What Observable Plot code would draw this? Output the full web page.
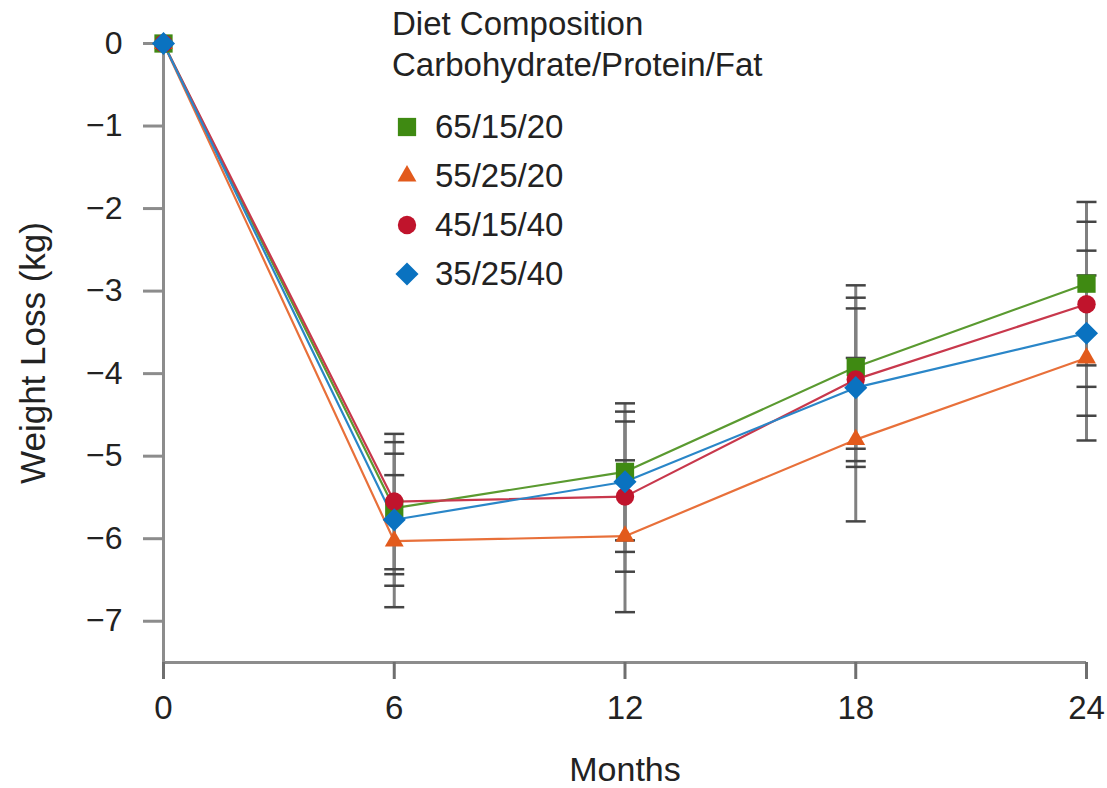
<!DOCTYPE html>
<html>
<head>
<meta charset="utf-8">
<script src="https://cdn.jsdelivr.net/npm/d3@7"></script>
<script src="https://cdn.jsdelivr.net/npm/@observablehq/plot@0.6"></script>
<style>
  html, body { margin: 0; padding: 0; background: #fff; }
  #wrap { position: relative; width: 1107px; height: 788px; font-family: "Liberation Sans", Arial, sans-serif; color: #222; }
  #legend { position: absolute; left: 392px; top: 3px; font-size: 33px; }
  #legend .title { line-height: 41px; white-space: nowrap; }
  #legend .items { margin-top: 17px; }
  #legend .item { display: flex; align-items: center; height: 49px; line-height: 49px; }
  #legend .item svg { width: 30px; height: 30px; margin-right: 13px; }
</style>
</head>
<body>
<div id="wrap"></div>
<script>
// ---- data ----
const months = [0, 6, 12, 18, 24];
const diets = ["65/15/20", "55/25/20", "45/15/40", "35/25/40"];
const yTicks = [0, -1, -2, -3, -4, -5, -6, -7];
const xTicks = [0, 6, 12, 18, 24];

// mean weight change (kg) per month
const loss_65_15_20 = [0, -5.63, -5.19, -3.92, -2.91];
const loss_55_25_20 = [0, -6.03, -5.97, -4.80, -3.81];
const loss_45_15_40 = [0, -5.55, -5.49, -4.07, -3.16];
const loss_35_25_40 = [0, -5.77, -5.31, -4.17, -3.51];

// error-bar half widths (kg)
const err_65_15_20 = [0, 0.80, 0.83, 0.99, 0.99];
const err_55_25_20 = [0, 0.80, 0.92, 0.99, 1.00];
const err_45_15_40 = [0, 0.82, 0.91, 0.99, 1.00];
const err_35_25_40 = [0, 0.80, 0.85, 0.96, 1.00];

// ---- styles ----
const dietColors = ["#3f8a12", "#e25a1c", "#c0142c", "#0a72c0"];
const lineColors = ["#5a9a30", "#e8703a", "#c8384c", "#2a86c8"];
const dietSymbols = ["square", "triangle", "circle", "diamond2"];
const dietRadius = [10.3, 7, 9.2, 10.4];
const symbolFns = {square: d3.symbolSquare, triangle: d3.symbolTriangle, circle: d3.symbolCircle, diamond2: d3.symbolDiamond2};

const losses = [loss_65_15_20, loss_55_25_20, loss_45_15_40, loss_35_25_40];
const errs = [err_65_15_20, err_55_25_20, err_45_15_40, err_35_25_40];

const rows = [];
diets.forEach((d, i) => months.forEach((m, j) => rows.push({diet: d, month: m, loss: losses[i][j], err: errs[i][j]})));
const errRows = rows.filter(r => r.err > 0);
const caps = errRows.flatMap(r => [{month: r.month, y: r.loss - r.err}, {month: r.month, y: r.loss + r.err}]);

const capSymbol = {
  draw(context, size) {
    context.moveTo(-10, 0);
    context.lineTo(10, 0);
  }
};

const axisGrey = "#8c8c8c";

const marks = [
  // error bars
  Plot.ruleX(errRows, {x: "month", y1: r => r.loss - r.err, y2: r => r.loss + r.err, stroke: "#808080", strokeWidth: 3}),
  Plot.dot(caps, {x: "month", y: "y", symbol: capSymbol, r: 10, stroke: "#454545", strokeWidth: 2.5, fill: "none"}),
  // axis lines
  Plot.ruleX([0], {y1: yTicks[0], y2: -7.5, stroke: axisGrey, strokeWidth: 3}),
  Plot.ruleY([-7.5], {x1: 0, x2: 24, stroke: axisGrey, strokeWidth: 3}),
  Plot.axisY({ticks: yTicks, tickSize: 20, tickPadding: 21, fontSize: 32, stroke: axisGrey, strokeWidth: 3, fill: "#222", label: null}),
  Plot.axisX({ticks: xTicks, tickSize: 17, tickPadding: 16, fontSize: 33, stroke: "#6f6f6f", strokeWidth: 3, fill: "#222", label: null}),
  Plot.text(["Months"], {frameAnchor: "bottom", dy: 118, fontSize: 34, fill: "#222"}),
  Plot.text(["Weight Loss (kg)"], {frameAnchor: "left", textAnchor: "middle", dx: -130, rotate: -90, fontSize: 35, fill: "#222"}),
];

// lines
diets.forEach((d, i) => {
  marks.push(Plot.line(rows.filter(r => r.diet === d), {x: "month", y: "loss", stroke: lineColors[i], strokeWidth: 2.2}));
});
// markers
diets.forEach((d, i) => {
  marks.push(Plot.dot(rows.filter(r => r.diet === d), {x: "month", y: "loss", symbol: dietSymbols[i], r: dietRadius[i], fill: dietColors[i], stroke: "none"}));
});

const chart = Plot.plot({
  width: 1107,
  height: 788,
  marginLeft: 163,
  marginRight: 21,
  marginTop: 43,
  marginBottom: 126,
  style: {fontFamily: "Liberation Sans, Arial, sans-serif", background: "#fff", color: "#222"},
  x: {domain: [0, 24]},
  y: {domain: [-7.5, 0]},
  marks
});

const wrap = document.getElementById("wrap");
wrap.appendChild(chart);

// legend
const legend = document.createElement("div");
legend.id = "legend";
legend.innerHTML = `<div class="title">Diet Composition</div><div class="title">Carbohydrate/Protein/Fat</div>`;
const items = document.createElement("div");
items.className = "items";
diets.forEach((d, i) => {
  const item = document.createElement("div");
  item.className = "item";
  const path = d3.symbol(symbolFns[dietSymbols[i]], Math.PI * dietRadius[i] * dietRadius[i])();
  item.innerHTML = `<svg viewBox="-15 -15 30 30"><path d="${path}" fill="${dietColors[i]}"></path></svg><span>${d}</span>`;
  items.appendChild(item);
});
legend.appendChild(items);
wrap.appendChild(legend);
</script>
</body>
</html>
